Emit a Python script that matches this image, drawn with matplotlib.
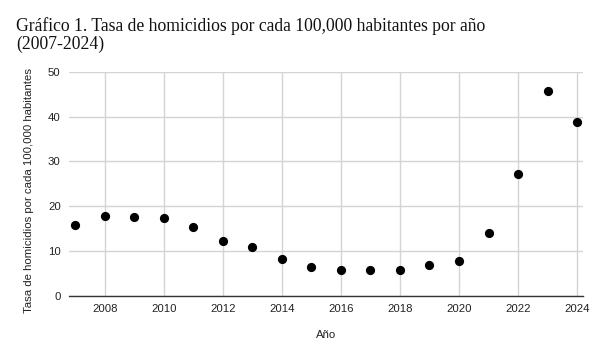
import matplotlib
matplotlib.use("Agg")
import matplotlib.pyplot as plt

years = [2007, 2008, 2009, 2010, 2011, 2012, 2013, 2014, 2015, 2016, 2017, 2018, 2019, 2020, 2021, 2022, 2023, 2024]
rates = [15.8, 17.9, 17.7, 17.4, 15.3, 12.3, 10.9, 8.2, 6.4, 5.8, 5.8, 5.8, 6.8, 7.8, 14.1, 27.3, 45.7, 38.8]
xticks = [2008, 2010, 2012, 2014, 2016, 2018, 2020, 2022, 2024]
yticks = [0, 10, 20, 30, 40, 50]

title_lines = ["Gráfico 1. Tasa de homicidios por cada 100,000 habitantes por año", "(2007-2024)"]
ylabel = "Tasa de homicidios por cada 100,000 habitantes"
xlabel = "Año"

fig = plt.figure(figsize=(6.02, 3.58), dpi=100)
ax = fig.add_axes([69/602, 1-296/358, (583-69)/602, (296-71.7)/358])

ax.scatter(years, rates, s=44, color="black", zorder=3, linewidths=0)

ax.set_xlim(2006.79, 2024.2)
ax.set_ylim(0, 50)
ax.set_xticks(xticks)
ax.set_yticks(yticks)
ax.grid(True, color="#d4d4d4", linewidth=1)
ax.set_axisbelow(True)
for s in ["top", "right", "left"]:
    ax.spines[s].set_visible(False)
ax.spines["bottom"].set_color("#333333")
ax.spines["bottom"].set_linewidth(1)
ax.tick_params(length=0, labelsize=8.2, labelcolor="#222222", pad=6)
for lab in ax.get_xticklabels() + ax.get_yticklabels():
    lab.set_family("Liberation Sans")

ax.set_xlabel(xlabel, family="Liberation Sans", fontsize=8.2, color="#222222", labelpad=11)
ax.set_ylabel(ylabel, family="Liberation Sans", fontsize=8.2, color="#222222")
ax.yaxis.set_label_coords(-0.068, 0.47)

for i, line in enumerate(title_lines):
    fig.text(16/602, 1-(31+17.5*i)/358, line, family="Liberation Serif", fontsize=12.7,
             color="#111111", va="baseline", ha="left")

fig.savefig("out.png", dpi=100, facecolor="white")
